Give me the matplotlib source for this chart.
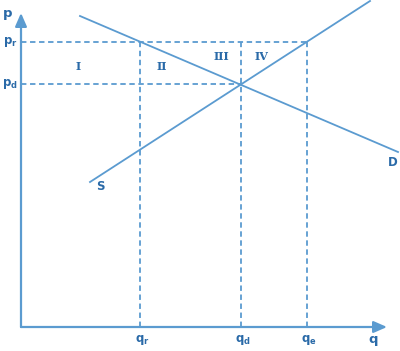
import matplotlib
matplotlib.use("Agg")
import matplotlib.pyplot as plt

# -------------------------------
# Data (origin at the axes corner)
# -------------------------------
q_levels = [119, 220, 286]          # q_r, q_d, q_e
q_labels = ["q$_\\mathregular{r}$", "q$_\\mathregular{d}$", "q$_\\mathregular{e}$"]
p_levels = [285, 243]               # p_r, p_d
p_labels = ["p$_\\mathregular{r}$", "p$_\\mathregular{d}$"]
p_ends = [286, 220]                 # where each price line stops

demand_q = [59, 377]
demand_p = [311, 175]
supply_q = [69, 349]
supply_p = [145, 326]

area_labels = ["I", "II", "III", "IV"]
area_q = [57, 141, 200, 240]
area_p = [261, 261, 271, 271]

line_col = "#5b9bd0"
text_col = "#2a6aa8"

fig = plt.figure(figsize=(4.0, 3.51), dpi=100)
ax = fig.add_axes([0, 0, 1, 1])
ax.set_xlim(-21, 379)
ax.set_ylim(-24, 327)
ax.axis("off")

# axes with arrows
ax.annotate("", xy=(366, 0), xytext=(0, 0),
            arrowprops=dict(arrowstyle="-|>,head_length=0.8,head_width=0.35",
                            color=line_col, lw=1.6, shrinkA=0, shrinkB=0))
ax.annotate("", xy=(0, 314), xytext=(0, 0),
            arrowprops=dict(arrowstyle="-|>,head_length=0.8,head_width=0.35",
                            color=line_col, lw=1.6, shrinkA=0, shrinkB=0))

# demand and supply
ax.plot(demand_q, demand_p, color=line_col, lw=1.3)
ax.plot(supply_q, supply_p, color=line_col, lw=1.3)

# dashed guides
for p, qe in zip(p_levels, p_ends):
    ax.plot([0, qe], [p, p], color=line_col, lw=1.3, ls=(0, (3, 2)))
for q in q_levels:
    ax.plot([q, q], [0, p_levels[0]], color=line_col, lw=1.3, ls=(0, (3, 2)))

font = dict(color=text_col, fontweight="heavy", fontsize=8.5)

# tick-like labels
for q, lab in zip(q_levels, q_labels):
    ax.text(q + 2, -13, lab, ha="center", va="center", **font)
for p, lab in zip(p_levels, p_labels):
    ax.text(-11, p, lab, ha="center", va="center", **font)
ax.text(-13, 313, "p", ha="center", va="center", color=text_col,
        fontweight="heavy", fontsize=9.5)
ax.text(352, -13, "q", ha="center", va="center", color=text_col,
        fontweight="heavy", fontsize=9.5)

# curve names and areas
ax.text(79, 141, "S", ha="center", va="center", **font)
ax.text(372, 165, "D", ha="center", va="center", **font)
for q, p, lab in zip(area_q, area_p, area_labels):
    ax.text(q, p, lab, ha="center", va="center", color=text_col,
            fontweight="bold", fontsize=8, family="DejaVu Serif")

plt.savefig("out.png", dpi=100)
